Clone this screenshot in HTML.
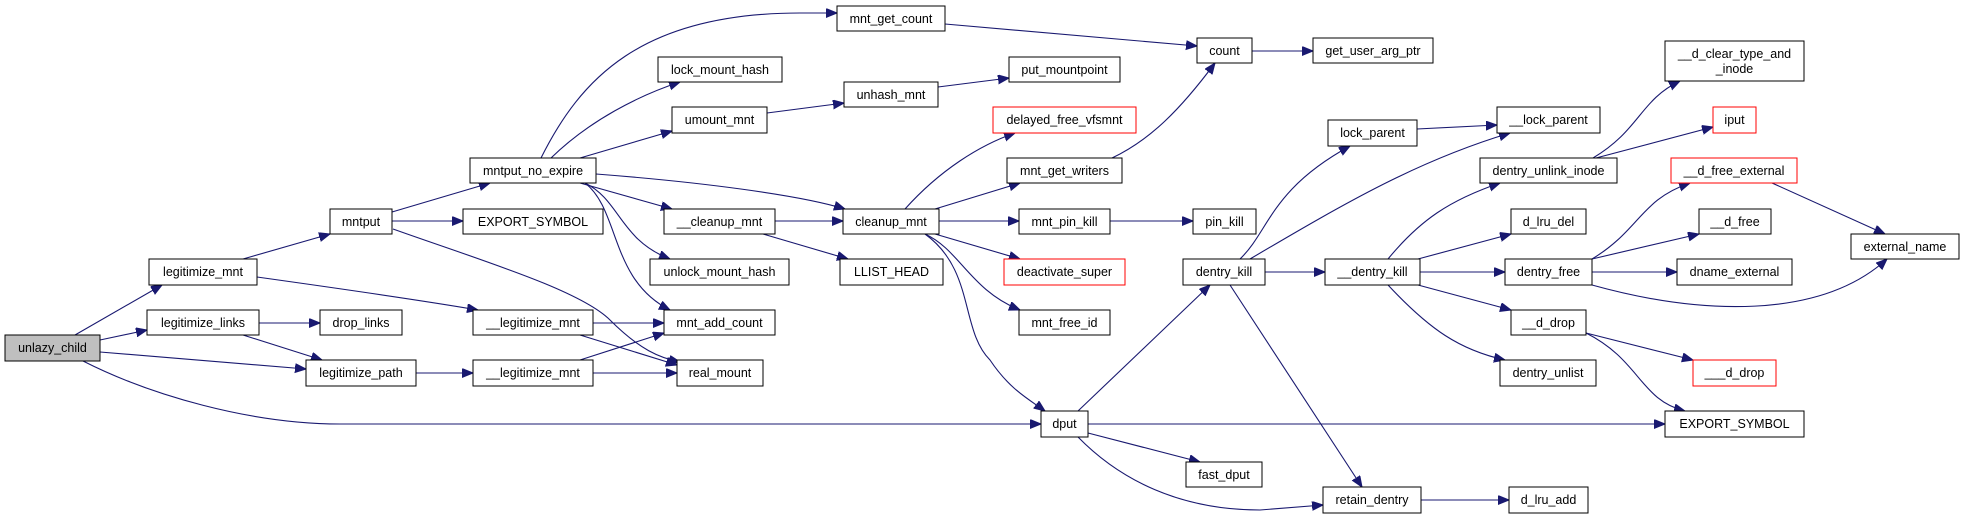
<!DOCTYPE html>
<html><head><meta charset="utf-8"><style>
html,body{margin:0;padding:0;background:#fff;width:1964px;height:519px;overflow:hidden}
svg{display:block}
text{font-family:"Liberation Sans",sans-serif;font-size:12.5px;fill:#000}
</style></head><body>
<svg width="1964" height="519" viewBox="0 0 1964 519" xmlns="http://www.w3.org/2000/svg">
<defs><marker id="a" markerUnits="userSpaceOnUse" markerWidth="12" markerHeight="10" refX="11" refY="4.5" orient="auto"><path d="M0,0 L11,4.5 L0,9 Z" fill="#191970" stroke="#191970"/></marker></defs>
<g fill="none" stroke="#191970" stroke-width="1.1" marker-end="url(#a)">
<path d="M75,335 L162,285"/>
<path d="M100,340 L147,330"/>
<path d="M100,352 L306,369"/>
<path d="M83,361 C150,395 250,424 340,424 L1041,424"/>
<path d="M243,259 L330,234"/>
<path d="M257,277 C350,290 420,300 478,310"/>
<path d="M259,323 L320,323"/>
<path d="M243,335 L322,360"/>
<path d="M416,373 L473,373"/>
<path d="M392,212 L490,183"/>
<path d="M392,221 L463,221"/>
<path d="M393,229 C480,260 580,290 610,320 C640,350 660,358 680,362"/>
<path d="M593,323 L664,323"/>
<path d="M580,335 L677,365"/>
<path d="M580,360 L664,333"/>
<path d="M593,373 L677,373"/>
<path d="M541,158 C580,80 640,13 800,13 L837,13"/>
<path d="M551,158 C590,120 640,95 680,82"/>
<path d="M580,158 L672,131"/>
<path d="M596,174 C700,182 800,195 845,209"/>
<path d="M580,183 L672,209"/>
<path d="M585,183 C620,200 620,240 670,259"/>
<path d="M585,183 C620,210 610,280 670,310"/>
<path d="M767,113 L844,103"/>
<path d="M938,87 L1009,78"/>
<path d="M945,24 L1197,46"/>
<path d="M1252,51 L1313,51"/>
<path d="M775,221 L843,221"/>
<path d="M763,234 L848,259"/>
<path d="M905,209 C940,170 980,145 1015,133"/>
<path d="M935,209 L1020,183"/>
<path d="M939,221 L1019,221"/>
<path d="M935,234 L1020,259"/>
<path d="M925,234 C960,250 970,290 1020,310"/>
<path d="M925,234 C975,270 960,330 990,360 C1010,390 1030,400 1045,411"/>
<path d="M1112,158 C1150,140 1180,110 1215,63"/>
<path d="M1110,221 L1193,221"/>
<path d="M1078,411 L1210,285"/>
<path d="M1088,424 L1665,424"/>
<path d="M1088,433 L1200,462"/>
<path d="M1078,437 C1120,480 1180,510 1260,510 L1323,505"/>
<path d="M1240,259 C1270,230 1270,190 1350,146"/>
<path d="M1250,259 C1350,200 1420,160 1510,133"/>
<path d="M1265,272 L1325,272"/>
<path d="M1230,285 L1362,487"/>
<path d="M1388,259 C1420,220 1450,200 1500,183"/>
<path d="M1418,259 L1511,234"/>
<path d="M1420,272 L1505,272"/>
<path d="M1418,285 L1511,310"/>
<path d="M1388,285 C1430,330 1460,350 1505,360"/>
<path d="M1417,129 L1497,125"/>
<path d="M1593,158 C1640,130 1640,100 1680,81"/>
<path d="M1596,158 L1713,127"/>
<path d="M1592,259 C1640,230 1640,200 1690,183"/>
<path d="M1592,259 L1699,234"/>
<path d="M1592,272 L1677,272"/>
<path d="M1592,285 C1700,315 1820,320 1887,259"/>
<path d="M1772,183 L1885,234"/>
<path d="M1586,333 L1693,360"/>
<path d="M1586,333 C1640,360 1640,400 1685,411"/>
<path d="M1421,500 L1509,500"/>
</g>
<g stroke="#000" stroke-width="1" fill="#fff">
<rect x="5" y="335" width="95" height="26" fill="#bfbfbf"/>
<rect x="149" y="259" width="108" height="26"/>
<rect x="147" y="310" width="112" height="25"/>
<rect x="320" y="310" width="82" height="25"/>
<rect x="306" y="360" width="110" height="26"/>
<rect x="330" y="209" width="62" height="25"/>
<rect x="463" y="209" width="140" height="25"/>
<rect x="470" y="158" width="126" height="25"/>
<rect x="473" y="310" width="120" height="25"/>
<rect x="473" y="360" width="120" height="26"/>
<rect x="837" y="6" width="108" height="25"/>
<rect x="658" y="57" width="124" height="25"/>
<rect x="672" y="107" width="95" height="26"/>
<rect x="844" y="82" width="94" height="25"/>
<rect x="1009" y="57" width="111" height="25"/>
<rect x="1197" y="38" width="55" height="25"/>
<rect x="993" y="107" width="143" height="26" stroke="#f00"/>
<rect x="1007" y="158" width="115" height="25"/>
<rect x="664" y="209" width="111" height="25"/>
<rect x="843" y="209" width="96" height="25"/>
<rect x="1019" y="209" width="91" height="25"/>
<rect x="1193" y="209" width="63" height="25"/>
<rect x="650" y="259" width="139" height="26"/>
<rect x="840" y="259" width="103" height="26"/>
<rect x="1004" y="259" width="121" height="26" stroke="#f00"/>
<rect x="1183" y="259" width="82" height="26"/>
<rect x="664" y="310" width="111" height="25"/>
<rect x="1019" y="310" width="91" height="25"/>
<rect x="677" y="360" width="86" height="26"/>
<rect x="1041" y="411" width="47" height="26"/>
<rect x="1186" y="462" width="76" height="25"/>
<rect x="1313" y="38" width="120" height="25"/>
<rect x="1665" y="41" width="139" height="40"/>
<rect x="1328" y="120" width="89" height="26"/>
<rect x="1497" y="107" width="103" height="26"/>
<rect x="1713" y="107" width="43" height="26" stroke="#f00"/>
<rect x="1480" y="158" width="137" height="25"/>
<rect x="1671" y="158" width="126" height="25" stroke="#f00"/>
<rect x="1511" y="209" width="75" height="25"/>
<rect x="1699" y="209" width="72" height="25"/>
<rect x="1851" y="234" width="108" height="25"/>
<rect x="1325" y="259" width="95" height="26"/>
<rect x="1505" y="259" width="87" height="26"/>
<rect x="1677" y="259" width="115" height="26"/>
<rect x="1511" y="310" width="75" height="25"/>
<rect x="1693" y="360" width="83" height="26" stroke="#f00"/>
<rect x="1500" y="360" width="96" height="26"/>
<rect x="1665" y="411" width="139" height="26"/>
<rect x="1323" y="487" width="98" height="26"/>
<rect x="1509" y="487" width="79" height="26"/>
</g>
<g text-anchor="middle">
<text x="52.5" y="352">unlazy_child</text>
<text x="203" y="276">legitimize_mnt</text>
<text x="203" y="327">legitimize_links</text>
<text x="361" y="327">drop_links</text>
<text x="361" y="377">legitimize_path</text>
<text x="361" y="226">mntput</text>
<text x="533" y="226">EXPORT_SYMBOL</text>
<text x="533" y="175">mntput_no_expire</text>
<text x="533" y="327">__legitimize_mnt</text>
<text x="533" y="377">__legitimize_mnt</text>
<text x="891" y="23">mnt_get_count</text>
<text x="720" y="74">lock_mount_hash</text>
<text x="719.5" y="124">umount_mnt</text>
<text x="891" y="99">unhash_mnt</text>
<text x="1064.5" y="74">put_mountpoint</text>
<text x="1224.5" y="55">count</text>
<text x="1064.5" y="124">delayed_free_vfsmnt</text>
<text x="1064.5" y="175">mnt_get_writers</text>
<text x="719.5" y="226">__cleanup_mnt</text>
<text x="891" y="226">cleanup_mnt</text>
<text x="1064.5" y="226">mnt_pin_kill</text>
<text x="1224.5" y="226">pin_kill</text>
<text x="719.5" y="276">unlock_mount_hash</text>
<text x="891.5" y="276">LLIST_HEAD</text>
<text x="1064.5" y="276">deactivate_super</text>
<text x="1224" y="276">dentry_kill</text>
<text x="719.5" y="327">mnt_add_count</text>
<text x="1064.5" y="327">mnt_free_id</text>
<text x="720" y="377">real_mount</text>
<text x="1064.5" y="428">dput</text>
<text x="1224" y="479">fast_dput</text>
<text x="1373" y="55">get_user_arg_ptr</text>
<text x="1734.5" y="58">__d_clear_type_and</text>
<text x="1734.5" y="73">_inode</text>
<text x="1372.5" y="137">lock_parent</text>
<text x="1548.5" y="124">__lock_parent</text>
<text x="1734.5" y="124">iput</text>
<text x="1548.5" y="175">dentry_unlink_inode</text>
<text x="1734" y="175">__d_free_external</text>
<text x="1548.5" y="226">d_lru_del</text>
<text x="1735" y="226">__d_free</text>
<text x="1905" y="251">external_name</text>
<text x="1372.5" y="276">__dentry_kill</text>
<text x="1548.5" y="276">dentry_free</text>
<text x="1734.5" y="276">dname_external</text>
<text x="1548.5" y="327">__d_drop</text>
<text x="1734.5" y="377">___d_drop</text>
<text x="1548" y="377">dentry_unlist</text>
<text x="1734.5" y="428">EXPORT_SYMBOL</text>
<text x="1372" y="504">retain_dentry</text>
<text x="1548.5" y="504">d_lru_add</text>
</g>
</svg>
</body></html>
